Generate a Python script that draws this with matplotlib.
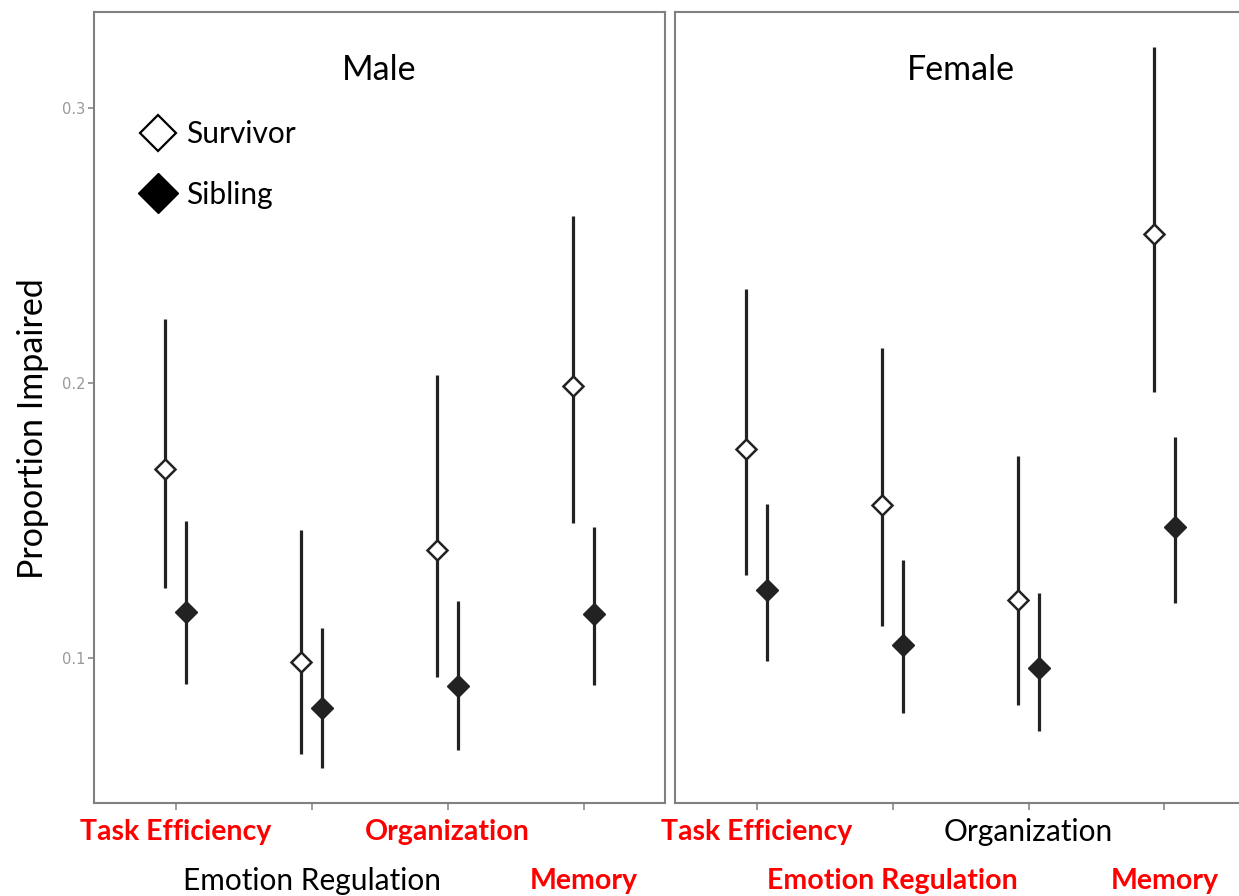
"""
Proportion impaired by domain, survivors vs siblings, split by sex
"""
import numpy as np
import matplotlib.pyplot as plt

# Domains in plotting order
dominios = ['Task Efficiency', 'Emotion Regulation', 'Organization', 'Memory']

# Male panel: estimate, lower, upper
male_surv = [0.1687, 0.0985, 0.1393, 0.1989]
male_surv_lo = [0.1255, 0.0651, 0.0931, 0.1491]
male_surv_hi = [0.2233, 0.1465, 0.2029, 0.2607]
male_sib = [0.1167, 0.0818, 0.0898, 0.1160]
male_sib_lo = [0.0905, 0.0600, 0.0665, 0.0902]
male_sib_hi = [0.1498, 0.1109, 0.1207, 0.1476]

# Female panel
fem_surv = [0.1760, 0.1556, 0.1211, 0.2542]
fem_surv_lo = [0.1302, 0.1116, 0.0829, 0.1967]
fem_surv_hi = [0.2342, 0.2127, 0.1735, 0.3222]
fem_sib = [0.1247, 0.1047, 0.0964, 0.1476]
fem_sib_lo = [0.0989, 0.0800, 0.0735, 0.1200]
fem_sib_hi = [0.1560, 0.1356, 0.1236, 0.1804]

# Label styles below each panel (True = red bold highlight)
male_resaltar = [True, False, True, True]
fem_resaltar = [True, True, False, True]

yticks = [0.1, 0.2, 0.3]

fuente = 'Lato'
plt.rcParams['font.family'] = [fuente, 'DejaVu Sans']

fig = plt.figure(figsize=(12.39, 8.96), dpi=100)
ax1 = fig.add_axes([0.0759, 0.1038, 0.4609, 0.8828])
ax2 = fig.add_axes([0.5448, 0.1038, 0.4609, 0.8828])

x = np.arange(1, len(dominios) + 1)
desp = 0.075
color = '#222222'


def panel(ax, surv, slo, shi, sib, blo, bhi, titulo, resaltar):
    surv = np.array(surv); sib = np.array(sib)
    ax.vlines(x - desp, slo, shi, color=color, lw=2.3, zorder=2)
    ax.vlines(x + desp, blo, bhi, color=color, lw=2.3, zorder=2)
    ax.plot(x - desp, surv, 'D', ms=10.5, mfc='white', mec=color, mew=1.8,
            ls='none', zorder=3)
    ax.plot(x + desp, sib, 'D', ms=11.5, mfc=color, mec=color, ls='none',
            zorder=3)
    ax.set_xlim(0.4, 4.6)
    ax.set_ylim(0.0473, 0.3349)
    ax.set_xticks(x)
    ax.set_xticklabels([])
    ax.tick_params(axis='x', length=5, width=1.2, color='#888888')
    for s in ax.spines.values():
        s.set_color('#808080')
        s.set_linewidth(1.5)
    ax.text(0.5, 0.927, titulo, transform=ax.transAxes, ha='center',
            va='center', fontsize=24.5, family=[fuente, 'DejaVu Sans'])
    trans = ax.get_xaxis_transform()
    for i, (d, r) in enumerate(zip(dominios, resaltar)):
        fila = -0.037 if i % 2 == 0 else -0.098
        ax.text(x[i], fila, d, transform=trans, ha='center', va='center',
                fontsize=20.5 if r else 21.5, color='red' if r else 'black',
                fontweight='bold' if r else 'normal', clip_on=False)


panel(ax1, male_surv, male_surv_lo, male_surv_hi, male_sib, male_sib_lo,
      male_sib_hi, 'Male', male_resaltar)
panel(ax2, fem_surv, fem_surv_lo, fem_surv_hi, fem_sib, fem_sib_lo,
      fem_sib_hi, 'Female', fem_resaltar)

ax1.set_yticks(yticks)
ax1.set_yticklabels(['0.1', '0.2', '0.3'], fontsize=10.5, color='#999999',
                    family='DejaVu Sans')
ax1.tick_params(axis='y', length=4, width=1.2, color='#888888', pad=2)
ax2.set_yticks([])
fig.text(33 / 1239, 0.522, 'Proportion Impaired', rotation=90, ha='center',
         va='center', fontsize=24.5)

# Legend inside the male panel
ax1.plot([], [], 'D', ms=18, mfc='white', mec='black', mew=1.6,
         label='Survivor')
ax1.plot([], [], 'D', ms=20, mfc='black', mec='black', label='Sibling')
ax1.legend(loc='upper left', bbox_to_anchor=(0.052, 0.882), frameon=False,
           fontsize=21.5, handletextpad=0.3, labelspacing=1.08,
           handlelength=1.3, borderpad=0)

fig.savefig('out.png', dpi=100)
